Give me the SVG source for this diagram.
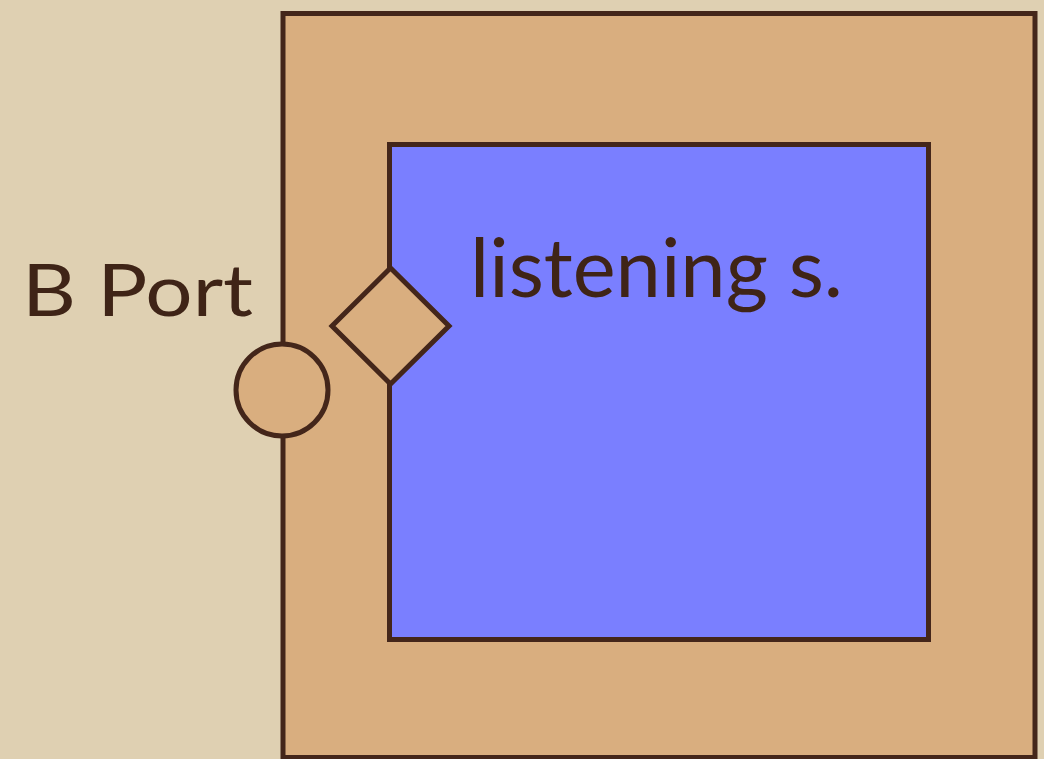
<svg xmlns="http://www.w3.org/2000/svg" width="1044" height="759" viewBox="0 0 1044 759">
  <style>
    .ln { stroke: #44261a; stroke-width: 5; }
    .tan { fill: #d9ae7f; }
    .lbl { fill: #3f2417; font-family: "Lato", "Liberation Sans", sans-serif; }
  </style>
  <rect x="0" y="0" width="1044" height="759" fill="#dfd0b2"/>
  <g id="outer">
    <rect x="283" y="13.5" width="752" height="744" class="tan ln"/>
  </g>
  <g id="listening">
    <rect x="389.5" y="144.5" width="539" height="495" fill="#7a7fff" class="ln"/>
    <text x="470" y="297" font-size="82" class="lbl" textLength="373" lengthAdjust="spacingAndGlyphs">listening s.</text>
  </g>
  <g id="port-b">
    <circle cx="282" cy="390" r="46" class="tan ln"/>
    <text x="22" y="316" font-size="72" class="lbl" textLength="231" lengthAdjust="spacingAndGlyphs">B Port</text>
  </g>
  <g id="port-inner">
    <polygon points="390.5,268 449,326 390.5,384 332,326" class="tan ln" stroke-linejoin="miter"/>
  </g>
  <g id="connectors"></g>
</svg>
